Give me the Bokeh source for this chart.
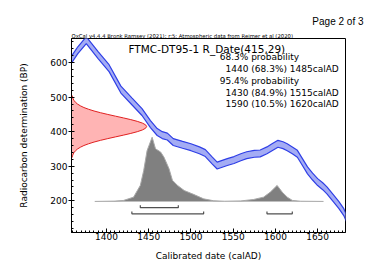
from bokeh.plotting import figure
from bokeh.models import Label, Range1d, SingleIntervalTicker, Title
from bokeh.embed import file_html
from bokeh.resources import INLINE

# ---------------- data ----------------
# calibration curve (calAD, BP) with 1-sigma half width
cal_year = [1358, 1366, 1376, 1390, 1403, 1417, 1430, 1442, 1452, 1460, 1466, 1472,
            1479, 1490, 1500, 1510, 1517, 1525, 1531, 1537, 1543, 1551, 1559, 1566,
            1575, 1582, 1590, 1596, 1603, 1609, 1614, 1620, 1626, 1632, 1638, 1644,
            1650, 1656, 1661, 1669, 1675, 1681, 1684]
cal_bp = [607, 636, 665, 622, 584, 522, 488, 457, 422, 399, 390, 386,
          370, 362, 355, 346, 338, 317, 302, 307, 312, 318, 326, 332,
          336, 337, 346, 355, 365, 361, 355, 346, 336, 312, 288, 270,
          254, 242, 230, 206, 188, 167, 150]
cal_err = [10, 10, 10, 10, 10, 10, 10, 10, 10, 10, 10, 10,
           10, 10, 10, 10, 10, 10, 10, 10, 10, 10, 10, 10,
           10, 10, 10, 10, 10, 10, 10, 10, 10, 10, 10, 10,
           10, 10, 10, 10, 10, 10, 10]

# radiocarbon measurement R_Date(415,29): BP value and drawn width (years)
r_bp = [325, 330, 335, 340, 345, 350, 355, 360, 365, 370, 375, 380, 385, 390, 395,
        400, 405, 410, 415, 420, 425, 430, 435, 440, 445, 450, 455, 460, 465, 470,
        475, 480, 485, 490, 495, 500, 505]
r_width = [0.7, 1.2, 2.0, 3.1, 4.8, 7.2, 10.5, 14.7, 20.2, 26.7, 34.4, 43.0, 52.1, 61.4, 70.2,
           77.9, 83.9, 87.7, 89.0, 87.7, 83.9, 77.9, 70.2, 61.4, 52.1, 43.0, 34.4, 26.7, 20.2, 14.7,
           10.5, 7.2, 4.8, 3.1, 2.0, 1.2, 0.7]

# calibrated probability (relative)
post_year = [1386, 1410, 1420, 1432, 1440, 1444, 1448, 1454, 1458, 1464, 1468, 1474,
             1478, 1484, 1492, 1503, 1515, 1527, 1540, 1559, 1574, 1586, 1594, 1602,
             1608, 1614, 1620, 1630, 1657]
post_prob = [0.0, 0.005, 0.015, 0.067, 0.25, 0.48, 0.79, 1.0, 0.82, 0.77, 0.69, 0.51,
             0.33, 0.25, 0.17, 0.11, 0.04, 0.01, 0.003, 0.008, 0.03, 0.067, 0.145, 0.25,
             0.145, 0.067, 0.016, 0.003, 0.0]

# ranges
range68_from = [1440]
range68_to = [1485]
range95_from = [1430, 1590]
range95_to = [1515, 1620]

title_text = "FTMC-DT95-1 R_Date(415,29)"
prob_lines = ["68.3% probability", "1440 (68.3%) 1485calAD", "95.4% probability",
              "1430 (84.9%) 1515calAD", "1590 (10.5%) 1620calAD"]
oxcal_text = "OxCal v4.4.4 Bronk Ramsey (2021); r:5; Atmospheric data from Reimer et al (2020)"
page_text = "Page 2 of 3"

# ---------------- figure ----------------
X0, X1 = 1358.5, 1683.0
Y0, Y1 = 108.0, 670.0

p = figure(width=373, height=264, output_backend="svg", toolbar_location=None,
           x_range=Range1d(X0, X1), y_range=Range1d(Y0, Y1), title=None,
           min_border_left=71, min_border_right=28, min_border_top=38, min_border_bottom=32)
p.background_fill_color = "white"
p.border_fill_color = "white"
p.outline_line_color = "black"
p.outline_line_width = 1
p.grid.visible = False

FONT = "DejaVu Sans"

# titles above the frame (first added is nearest the frame)
p.add_layout(Title(text=oxcal_text, text_font=FONT, text_font_size="5.3px",
                   text_font_style="normal", align="left", standoff=0,
                   text_color="black"), "above")
p.add_layout(Title(text=page_text, text_font="Liberation Sans", text_font_size="10px",
                   text_font_style="normal", align="right", offset=-18, standoff=8,
                   text_color="black"), "above")

# red measurement distribution
r_x2 = [X0 + w for w in r_width]
p.harea(y=r_bp, x1=[X0] * len(r_bp), x2=r_x2, fill_color="#ffb4b4", fill_alpha=1.0)
p.line(x=r_x2, y=r_bp, line_color="#e02020", line_width=1)

# gray posterior
POST_BASE = 198.0
POST_H = 186.0
post_top = [POST_BASE + v * POST_H for v in post_prob]
p.varea(x=post_year, y1=[POST_BASE] * len(post_year), y2=post_top, fill_color="#808080")
p.line(x=post_year, y=post_top, line_color="#a8a8a8", line_width=1)

# brackets
def brackets(froms, tos, y, tip):
    xs, ys = [], []
    for a, b in zip(froms, tos):
        xs.append([a, a, b, b])
        ys.append([y + tip, y, y, y + tip])
    return xs, ys

bx, by = brackets(range68_from, range68_to, 180.0, 7.0)
p.multi_line(xs=bx, ys=by, line_color="#505050", line_width=1.2)
bx, by = brackets(range95_from, range95_to, 162.0, 7.0)
p.multi_line(xs=bx, ys=by, line_color="#505050", line_width=1.2)

# calibration curve band
cal_hi = [m + e for m, e in zip(cal_bp, cal_err)]
cal_lo = [m - e for m, e in zip(cal_bp, cal_err)]
p.varea(x=cal_year, y1=cal_lo, y2=cal_hi, fill_color="#a4acf4")
p.line(x=cal_year, y=cal_hi, line_color="#2f3fe6", line_width=1.2)
p.line(x=cal_year, y=cal_lo, line_color="#2f3fe6", line_width=1.2)

# texts inside the frame
p.add_layout(Label(x=1426, y=638.5, text=title_text, text_font=FONT, text_font_size="10.5px",
                   text_baseline="middle", text_align="left", text_color="black"))
prob_x = [1534, 1541, 1534, 1541, 1541]
prob_y = [616, 580.6, 546.7, 513, 481]
for t, xx, yy in zip(prob_lines, prob_x, prob_y):
    p.add_layout(Label(x=xx, y=yy, text=t, text_font=FONT, text_font_size="9px",
                       text_baseline="middle", text_align="left", text_color="black"))

# axes
p.xaxis.ticker = SingleIntervalTicker(interval=50, num_minor_ticks=10)
p.yaxis.ticker = SingleIntervalTicker(interval=100, num_minor_ticks=5)
p.xaxis.axis_label = "Calibrated date (calAD)"
p.yaxis.axis_label = "Radiocarbon determination (BP)"
for ax in (p.xaxis, p.yaxis):
    ax.axis_label_text_font = FONT
    ax.axis_label_text_font_size = "9px"
    ax.axis_label_text_font_style = "normal"
    ax.axis_label_text_color = "black"
    ax.major_label_text_font = FONT
    ax.major_label_text_font_size = "9px"
    ax.major_label_text_color = "black"
    ax.axis_line_color = "black"
    ax.major_tick_line_color = "black"
    ax.minor_tick_line_color = "black"
    ax.minor_tick_in = 2
    ax.minor_tick_out = 0
p.xaxis.major_tick_in = 4
p.xaxis.major_tick_out = 0
p.xaxis.major_label_standoff = 0
p.xaxis.axis_label_standoff = 8
p.yaxis.major_tick_in = 3
p.yaxis.major_tick_out = 3
p.yaxis.major_label_standoff = 1
p.yaxis.axis_label_standoff = 18

open("out.html", "w").write(file_html(p, INLINE))
